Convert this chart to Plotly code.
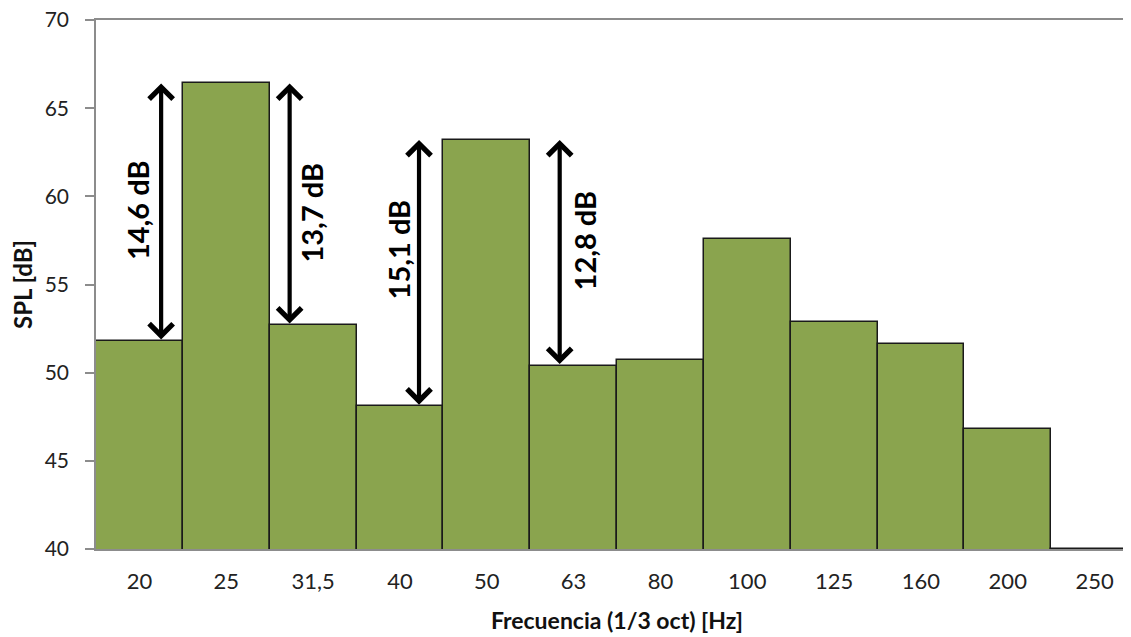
import plotly.graph_objects as go

categories = ["20", "25", "31,5", "40", "50", "63", "80", "100", "125", "160", "200", "250"]
spl_values = [51.8, 66.4, 52.7, 48.1, 63.2, 50.4, 50.7, 57.6, 52.9, 51.6, 46.8, 40.0]

# arrows between (lower bar index, upper bar index)
arrow_pairs = [(0, 1), (2, 1), (3, 4), (5, 4)]
arrow_x = [0.25, 1.73, 3.22, 4.84]
label_x = [-0.02, 1.98, 2.98, 5.12]
label_y = [59.2, 59.1, 57.0, 57.5]
arrow_labels = ["14,6 dB", "13,7 dB", "15,1 dB", "12,8 dB"]

FONT = "Lato"
x_idx = list(range(len(categories)))

fig = go.Figure()
fig.add_trace(go.Bar(
    x=x_idx, y=spl_values, width=1.0,
    marker=dict(color="#8aa44e", line=dict(color="#1a1a1a", width=1.5)),
    hoverinfo="x+y",
))

for (lo, hi), ax_, lx, ly, txt in zip(arrow_pairs, arrow_x, label_x, label_y, arrow_labels):
    fig.add_annotation(
        x=ax_, y=spl_values[hi], ax=ax_, ay=spl_values[lo],
        xref="x", yref="y", axref="x", ayref="y",
        showarrow=True, arrowhead=4, startarrowhead=4, arrowside="end+start",
        arrowsize=1.1, startarrowsize=1.1, arrowwidth=4.2, arrowcolor="black", text="",
    )
    fig.add_annotation(
        x=lx, y=ly, xref="x", yref="y", text="<b>%s</b>" % txt, textangle=-90,
        showarrow=False, font=dict(family=FONT, size=29, color="black"),
    )

fig.update_layout(
    width=1131, height=637,
    margin=dict(l=88, r=1, t=12, b=96, autoexpand=False),
    paper_bgcolor="white", plot_bgcolor="white",
    showlegend=False, bargap=0,
    xaxis=dict(
        tickmode="array", tickvals=x_idx, ticktext=categories,
        range=[-0.5, 11.5], showgrid=False, zeroline=False, automargin=False,
        showline=True, linecolor="#8c8c8c", linewidth=1.5, mirror=True,
        ticks="", tickfont=dict(family=FONT, size=22, color="#222"),
        ticklabelstandoff=12, ticklabeloverflow="allow",
        title=dict(text="<b>Frecuencia (1/3 oct) [Hz]</b>", font=dict(family=FONT, size=23, color="#111"), standoff=20),
    ),
    yaxis=dict(
        range=[40, 70], dtick=5, showgrid=False, zeroline=False, automargin=False,
        showline=True, linecolor="#8c8c8c", linewidth=1.5,
        ticks="outside", ticklen=9, tickcolor="#8c8c8c", tickwidth=1.5,
        tickfont=dict(family=FONT, size=21, color="#222"),
        ticklabelstandoff=12, ticklabeloverflow="allow",
        title=dict(text="<b>SPL [dB]</b>", font=dict(family=FONT, size=24, color="#111"), standoff=12),
    ),
)

fig.write_html("out.html")
